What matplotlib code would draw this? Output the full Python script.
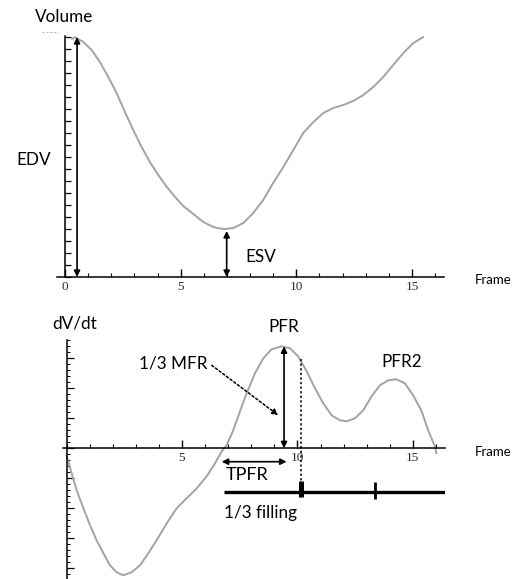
import matplotlib
matplotlib.use('Agg')
import matplotlib.pyplot as plt
from matplotlib.ticker import MultipleLocator, FixedLocator

# values
vol_frame = [0.3, 0.43, 0.79, 1.15, 1.51, 1.87, 2.23, 2.59, 2.95, 3.31, 3.67, 4.03, 4.4,
             4.76, 5.11, 5.55, 5.98, 6.41, 6.7, 6.92, 7.28, 7.71, 8.14, 8.57, 9.0, 9.44,
             9.87, 10.3, 10.74, 11.17, 11.6, 12.03, 12.46, 12.9, 13.33, 13.76, 14.19,
             14.63, 15.06, 15.49]
volume = [238, 239.7, 235, 227, 215, 200, 184, 165, 147, 130, 115, 102, 90,
          80, 71, 63, 55, 50, 48.5, 48, 49, 54, 64, 77, 94, 110,
          127, 144, 155, 164, 169, 172, 176, 182, 190, 200, 212,
          224, 234, 240]

rate_frame = [0, 0.04, 0.22, 0.44, 0.73, 1.02, 1.3, 1.6, 1.88, 2.17, 2.46, 2.82, 3.18,
              3.54, 3.9, 4.34, 4.77, 5.2, 5.64, 6.07, 6.43, 6.72, 6.93, 7.22, 7.51, 7.8,
              8.16, 8.52, 8.88, 9.32, 9.68, 10.03, 10.4, 10.76, 11.12, 11.48, 11.84, 12.13,
              12.49, 12.85, 13.21, 13.57, 13.93, 14.29, 14.65, 15.01, 15.38, 15.66, 15.95,
              16.02]
dvdt = [-6, -10, -25, -42, -60, -77, -92, -105, -117, -124, -127, -124, -117,
        -105, -92, -75, -60, -50, -40, -28, -15, -3, 3, 18, 37, 55,
        75, 90, 99, 102, 100, 92, 77, 60, 45, 33, 28, 27,
        30, 38, 52, 63, 68, 69, 65, 53, 37, 18, 2,
        -5]

top_ticks = [0, 5, 10, 15]
bottom_ticks = [5, 10, 15]

W, H = 520, 579
fig = plt.figure(figsize=(W / 100, H / 100), dpi=100)

label_font = 'Lato'
tick_font = 'Liberation Serif'
curve_color = '#a3a3a3'


def px_axes(x0, x1, ytop, ybot):
    return fig.add_axes([x0 / W, (H - ybot) / H, (x1 - x0) / W, (ybot - ytop) / H])


def style_axes(ax, labels):
    for s in ['top', 'right']:
        ax.spines[s].set_visible(False)
    ax.spines['left'].set_position(('data', 0))
    ax.spines['bottom'].set_position(('data', 0))
    for s in ['left', 'bottom']:
        ax.spines[s].set_linewidth(1.1)
    ax.xaxis.set_major_locator(FixedLocator(labels))
    ax.xaxis.set_minor_locator(MultipleLocator(1))
    ax.set_xticklabels([str(v) for v in labels], fontfamily=tick_font, fontsize=9.5, color='#2a2a2a')
    ax.tick_params(axis='x', which='major', direction='in', length=6, width=1, pad=3)
    ax.tick_params(axis='x', which='minor', direction='in', length=3, width=0.8)
    ax.set_yticklabels([])
    ax.patch.set_alpha(0)


def double_arrow(ax, p0, p1, style='<|-|>', ls='-', lw=1.2):
    ax.annotate('', xy=p1, xytext=p0, annotation_clip=False,
                arrowprops=dict(arrowstyle=style, color='black', lw=lw, linestyle=ls,
                                mutation_scale=9, shrinkA=0, shrinkB=0))


# ---- top panel: volume ----
ax1 = px_axes(56.7, 444.3, 36, 277)
ax1.set_xlim(-0.36, 16.4)
ax1.set_ylim(0, 241)
style_axes(ax1, top_ticks)
ax1.yaxis.set_major_locator(MultipleLocator(12))
ax1.tick_params(axis='y', which='major', direction='in', length=4, width=0.9)
ax1.set_yticklabels([])
ax1.plot(vol_frame, volume, color=curve_color, lw=1.4, solid_capstyle='round')

double_arrow(ax1, (0.52, 0), (0.52, 240))
double_arrow(ax1, (6.99, 0), (6.99, 46))
ax1.plot([-1.0, -0.3], [245, 245], color='#bbbbbb', lw=0.8, ls=(0, (2, 1.5)), clip_on=False)

ax1.text(-0.05, 260, 'Volume', fontfamily=label_font, fontsize=12.3, ha='center', va='center')
ax1.text(-1.34, 117, 'EDV', fontfamily=label_font, fontsize=12.3, ha='center', va='center')
ax1.text(8.47, 20, 'ESV', fontfamily=label_font, fontsize=12.3, ha='center', va='center')
ax1.text(18.5, -3, 'Frame', fontfamily=label_font, fontsize=9.5, ha='center', va='center')

# ---- bottom panel: filling rate ----
ax2 = px_axes(63.3, 445, 340, 579)
ax2.set_xlim(-0.14, 16.39)
ax2.set_ylim(-130.7, 108.3)
style_axes(ax2, bottom_ticks)
ax2.yaxis.set_major_locator(MultipleLocator(30))
ax2.yaxis.set_minor_locator(MultipleLocator(6))
ax2.tick_params(axis='y', which='major', direction='in', length=5, width=0.9)
ax2.tick_params(axis='y', which='minor', direction='in', length=2.5, width=0.7)
ax2.set_yticklabels([])
ax2.plot(rate_frame, dvdt, color=curve_color, lw=1.4, solid_capstyle='round')

# PFR, TPFR and 1/3 filling marks
double_arrow(ax2, (9.42, 0), (9.42, 102))
double_arrow(ax2, (6.72, -13.4), (9.53, -13.4))
ax2.plot([10.15, 10.15], [89, -43], color='black', lw=1.1, ls=(0, (1.5, 1.5)))
ax2.plot([6.82, 16.39], [-43.4, -43.4], color='black', lw=2.4, solid_capstyle='butt')
ax2.plot([10.15, 10.15], [-32.4, -49], color='black', lw=3.6, solid_capstyle='butt')
ax2.plot([13.38, 13.38], [-33.4, -50.7], color='black', lw=2, solid_capstyle='butt')
ax2.annotate('', xy=(9.17, 33), xytext=(6.29, 83),
             arrowprops=dict(arrowstyle='-|>', color='black', lw=1.1, linestyle=(0, (1.5, 1.5)),
                             mutation_scale=9, shrinkA=0, shrinkB=0))

ax2.text(0.37, 125, 'dV/dt', fontfamily=label_font, fontsize=12.3, ha='center', va='center')
ax2.text(4.63, 85, '1/3 MFR', fontfamily=label_font, fontsize=12.3, ha='center', va='center')
ax2.text(9.42, 121, 'PFR', fontfamily=label_font, fontsize=12.3, ha='center', va='center')
ax2.text(14.52, 86, 'PFR2', fontfamily=label_font, fontsize=12.3, ha='center', va='center')
ax2.text(7.84, -27, 'TPFR', fontfamily=label_font, fontsize=13, ha='center', va='center')
ax2.text(8.38, -65, '1/3 filling', fontfamily=label_font, fontsize=12.3, ha='center', va='center')
ax2.text(18.46, -4, 'Frame', fontfamily=label_font, fontsize=9.5, ha='center', va='center')

fig.savefig('out.png', dpi=100)
